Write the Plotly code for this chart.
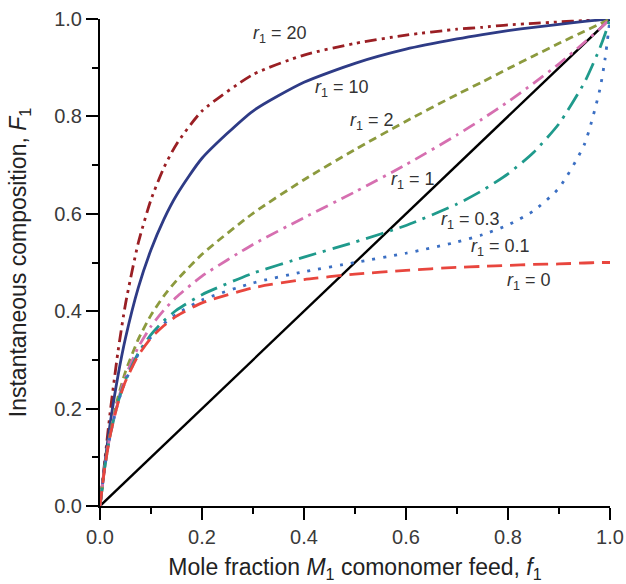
import plotly.graph_objects as go

# Monomer feed mole fraction f1
feed = [0.0, 0.01, 0.02, 0.035, 0.05, 0.075, 0.10, 0.125, 0.15, 0.20, 0.30,
        0.40, 0.50, 0.60, 0.70, 0.75, 0.80, 0.85, 0.90, 0.95, 0.98, 0.99, 1.0]

# Instantaneous copolymer composition F1 for each reactivity ratio r1
F_r20 = [0.0, 0.099, 0.193, 0.315, 0.415, 0.540, 0.629, 0.694, 0.743, 0.811, 0.886,
         0.926, 0.950, 0.967, 0.979, 0.983, 0.988, 0.991, 0.994, 0.997, 0.999, 1.0, 1.0]
F_r10 = [0.0, 0.092, 0.170, 0.266, 0.345, 0.448, 0.526, 0.588, 0.638, 0.714, 0.811,
         0.870, 0.909, 0.938, 0.959, 0.968, 0.976, 0.983, 0.989, 0.995, 0.998, 0.999, 1.0]
F_r2 = [0.0, 0.086, 0.150, 0.222, 0.276, 0.342, 0.392, 0.431, 0.463, 0.517, 0.601,
        0.670, 0.732, 0.790, 0.845, 0.871, 0.898, 0.924, 0.950, 0.975, 0.990, 0.995, 1.0]
F_r1 = [0.0, 0.085, 0.147, 0.216, 0.266, 0.326, 0.369, 0.402, 0.429, 0.472, 0.537,
        0.592, 0.645, 0.701, 0.762, 0.795, 0.830, 0.868, 0.908, 0.952, 0.980, 0.990, 1.0]
F_r03 = [0.0, 0.084, 0.146, 0.212, 0.259, 0.314, 0.352, 0.380, 0.402, 0.434, 0.478,
         0.511, 0.542, 0.576, 0.620, 0.648, 0.682, 0.726, 0.785, 0.870, 0.940, 0.968, 1.0]
F_r01 = [0.0, 0.084, 0.145, 0.211, 0.257, 0.311, 0.347, 0.374, 0.394, 0.423, 0.458,
         0.481, 0.500, 0.519, 0.542, 0.557, 0.577, 0.606, 0.653, 0.743, 0.855, 0.916, 1.0]
F_r0 = [0.0, 0.084, 0.145, 0.210, 0.256, 0.309, 0.345, 0.370, 0.390, 0.417, 0.448,
        0.465, 0.476, 0.484, 0.490, 0.492, 0.494, 0.496, 0.497, 0.499, 0.500, 0.500, 0.500]

ideal_x = [0.0, 1.0]
ideal_y = [0.0, 1.0]

series = [
    ("20", F_r20, "#9a1f24", "12px,5px,3px,5px,3px,5px"),
    ("10", F_r10, "#2e3b86", "solid"),
    ("2", F_r2, "#8c9a3e", "8px,5px"),
    ("1", F_r1, "#d66fb0", "13px,6px,3px,6px"),
    ("0.3", F_r03, "#1f9a8c", "18px,7px,3px,7px"),
    ("0.1", F_r01, "#3b6fc3", "3px,8px"),
    ("0", F_r0, "#e8463e", "15px,8px"),
]

# Label anchor positions (data coords) for each curve's r1 tag
label_pos = {
    "20": (0.353, 0.968),
    "10": (0.475, 0.857),
    "2": (0.533, 0.790),
    "1": (0.614, 0.668),
    "0.3": (0.727, 0.587),
    "0.1": (0.786, 0.530),
    "0": (0.842, 0.462),
}

font_family = "Liberation Sans, Arial, sans-serif"

fig = go.Figure()

fig.add_trace(go.Scatter(x=ideal_x, y=ideal_y, mode="lines",
                         line=dict(color="black", width=2.4),
                         showlegend=False, hoverinfo="skip"))

for name, ys, color, dash in series:
    fig.add_trace(go.Scatter(
        x=feed, y=ys, mode="lines",
        line=dict(color=color, width=2.8, dash=dash, shape="spline", smoothing=0.6),
        name="r1 = " + name, showlegend=False,
    ))
    lx, ly = label_pos[name]
    fig.add_annotation(
        x=lx, y=ly, xref="x", yref="y", showarrow=False,
        text="<i>r</i><sub>1</sub> = " + name,
        font=dict(family=font_family, size=18, color="#333333"),
        bgcolor="rgba(0,0,0,0)",
    )

axis_common = dict(
    range=[0, 1.0], showgrid=False, zeroline=False, automargin=False,
    showline=True, linecolor="black", linewidth=2,
    ticks="outside", ticklen=12, tickwidth=2, tickcolor="black",
    tickfont=dict(family=font_family, size=20, color="#3a3a3a"),
    tickformat=".1f", dtick=0.2, tick0=0,
    minor=dict(ticks="outside", ticklen=6, tickwidth=1.8, tickcolor="black", dtick=0.1),
    fixedrange=True,
)

fig.update_layout(
    width=626, height=584,
    margin=dict(l=100, r=16, t=19, b=78),
    plot_bgcolor="white", paper_bgcolor="white",
    xaxis=dict(**axis_common,
               title=dict(text="Mole fraction <i>M</i><sub>1</sub> comonomer feed, <i>f</i><sub>1</sub>",
                          font=dict(family=font_family, size=23, color="#222222"),
                          standoff=12)),
    yaxis=dict(**axis_common,
               title=dict(text="Instantaneous composition, <i>F</i><sub>1</sub>",
                          font=dict(family=font_family, size=23, color="#222222"),
                          standoff=21)),
)

fig.write_html("out.html")
